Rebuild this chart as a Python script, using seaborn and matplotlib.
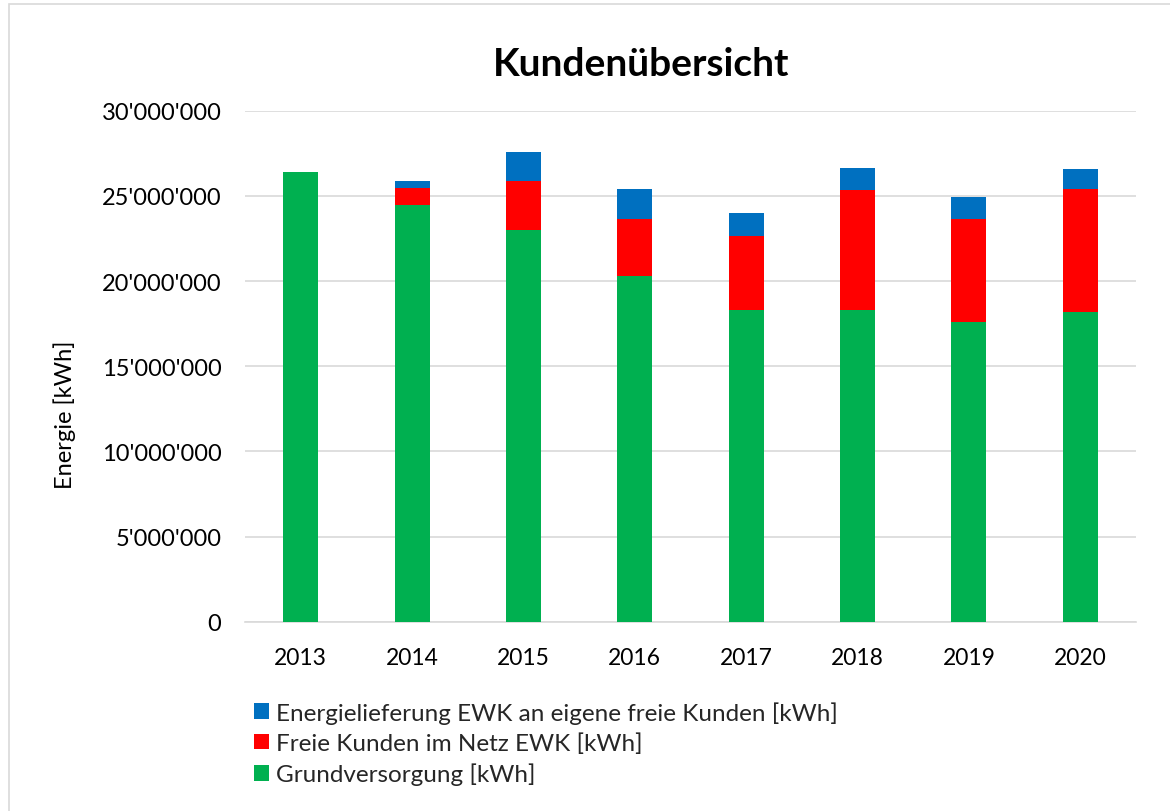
import matplotlib
matplotlib.use("Agg")
import matplotlib.pyplot as plt
import seaborn as sns
import pandas as pd
import numpy as np
from matplotlib.patches import Patch, Rectangle
from matplotlib.ticker import FuncFormatter, MultipleLocator

years = ["2013", "2014", "2015", "2016", "2017", "2018", "2019", "2020"]
grundversorgung = [26430000, 24490000, 22990000, 20310000, 18300000, 18300000, 17580000, 18160000]
freie_kunden = [0, 1000000, 2910000, 3360000, 4320000, 7030000, 6050000, 7250000]
energielieferung = [0, 410000, 1670000, 1760000, 1400000, 1290000, 1290000, 1150000]

labels = ["Energielieferung EWK an eigene freie Kunden [kWh]",
          "Freie Kunden im Netz EWK [kWh]",
          "Grundversorgung [kWh]"]
c_green, c_red, c_blue = "#00B050", "#FF0000", "#0070C0"

sns.set_theme(style="white")
plt.rcParams["font.family"] = ["Lato", "DejaVu Sans"]

df = pd.DataFrame({"year": years, "g": grundversorgung, "r": freie_kunden, "b": energielieferung})
df["gr"] = df["g"] + df["r"]
df["grb"] = df["gr"] + df["b"]

fig = plt.figure(figsize=(11.7, 8.12), dpi=100)
ax = fig.add_axes([245/1170, 1-622.7/812, (1136-245)/1170, (622.7-111.7)/812])

w = 0.314
kw = dict(width=w, saturation=1, ax=ax, edgecolor="none", linewidth=0)
sns.barplot(data=df, x="year", y="grb", color=c_blue, zorder=3, **kw)
sns.barplot(data=df, x="year", y="gr", color=c_red, zorder=4, **kw)
sns.barplot(data=df, x="year", y="g", color=c_green, zorder=5, **kw)

ax.set_xlim(-0.5, 7.5)
ax.set_ylim(0, 30000000)
ax.yaxis.set_major_locator(MultipleLocator(5000000))
ax.yaxis.set_major_formatter(FuncFormatter(lambda v, p: f"{int(v):,}".replace(",", "'")))
ax.grid(axis="y", color="#D9D9D9", linewidth=1.2, zorder=0)
ax.set_axisbelow(True)
for s in ["top", "right", "left"]:
    ax.spines[s].set_visible(False)
ax.spines["bottom"].set_color("#D9D9D9")
ax.spines["bottom"].set_linewidth(1.2)
ax.tick_params(axis="both", length=0, colors="black")
ax.tick_params(axis="y", pad=17, labelsize=17)
ax.tick_params(axis="x", pad=18, labelsize=16.5)
ax.set_xlabel("")
ax.set_ylabel("Energie [kWh]", fontsize=17, color="black")
ax.yaxis.set_label_coords(-0.19, 0.406)

fig.text(641/1170, 1-65/812, "Kundenübersicht", ha="center", va="center",
         fontsize=28, fontweight="bold", color="black")

handles = [Patch(facecolor=c_blue, edgecolor="none"),
           Patch(facecolor=c_red, edgecolor="none"),
           Patch(facecolor=c_green, edgecolor="none")]
fig.legend(handles, labels, loc="upper left", bbox_to_anchor=(254/1170, 1-702/812),
           frameon=False, fontsize=17.5, handlelength=0.62, handleheight=0.62,
           handletextpad=0.3, labelspacing=0.36, borderaxespad=0, borderpad=0)

fig.patches.append(Rectangle((9/1170, -0.1), 1.2, 1-5/812+0.1, transform=fig.transFigure,
                             facecolor="none", edgecolor="#D9D9D9", linewidth=1.2))

fig.savefig("out.png", dpi=100)
